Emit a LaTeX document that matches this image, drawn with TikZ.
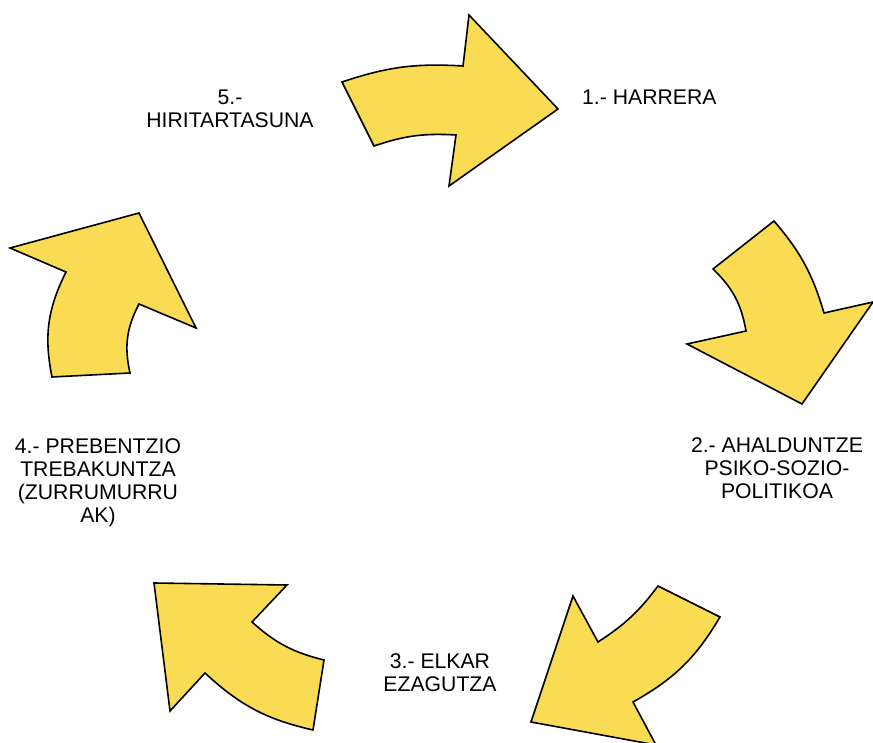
\documentclass[tikz,border=0pt]{standalone}
\usepackage{fontspec}
\setmainfont{Liberation Sans}
\definecolor{arrowyellow}{RGB}{249,220,84}
\begin{document}
\begin{tikzpicture}[x=1pt,y=1pt,
  cyclearrow/.style={fill=arrowyellow,draw=black,line width=1.6pt,line join=miter,miter limit=10},
  lbl/.style={inner sep=0pt,align=center,font={\fontsize{21.2}{23.2}\selectfont},text=black}]
\useasboundingbox (0,0) rectangle (873,742);
% Arrow 1 (top)
\draw[cyclearrow] (342,660) to[bend left=11] (463,676) -- (469,727) -- (558,633) -- (449,556) -- (456,607) to[bend right=11] (374,596) -- cycle;
% Arrow 2 (right)
\draw[cyclearrow] (774,521) -- (713,473) to[bend left=18] (746,411) -- (687,398) -- (802,338) -- (873,440) -- (824,429) to[bend right=12] cycle;
% Arrow 3 (bottom right)
\draw[cyclearrow] (720,125) -- (658,156) to[bend left=10] (598,100) -- (573,146) -- (531,20) -- (656,-3) -- (633,40) to[bend right=15] cycle;
% Arrow 4 (bottom left)
\draw[cyclearrow] (154,159) -- (287,157) -- (252,120) to[bend right=14] (324,82) -- (313,12) to[bend left=15] (205,69) -- (170,31) -- cycle;
% Arrow 5 (left)
\draw[cyclearrow] (10,494) -- (139,529) -- (196,414) -- (139,438) to[bend right=20] (130,369) -- (52,365) to[bend left=19] (66,470) -- cycle;
% Labels
\node[lbl,anchor=north west] (n1) at (582,652) {1.- HARRERA};
\node[lbl,anchor=north] (n2) at (777,305) {2.- AHALDUNTZE\\PSIKO-SOZIO-\\POLITIKOA};
\node[lbl,anchor=north] (n3) at (440,89) {3.- ELKAR\\EZAGUTZA};
\node[lbl,anchor=north] (n4) at (98,304) {4.- PREBENTZIO\\TREBAKUNTZA\\(ZURRUMURRU\\AK)};
\node[lbl,anchor=north] (n5) at (230,652) {5.-\\HIRITARTASUNA};
\end{tikzpicture}
\end{document}
